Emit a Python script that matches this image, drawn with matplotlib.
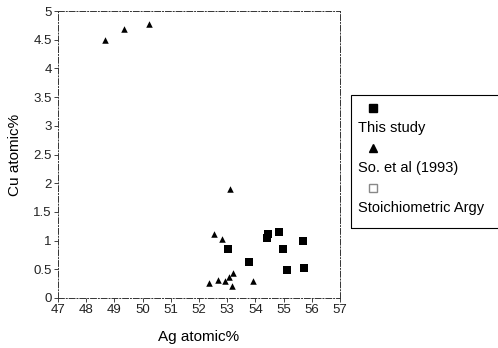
import matplotlib.pyplot as plt
from matplotlib.lines import Line2D
from matplotlib.patches import Rectangle

plt.rcParams['font.family'] = ['Liberation Sans', 'DejaVu Sans']

# This study (squares)
study_ag = [54.46, 54.40, 54.84, 55.70, 53.04, 54.99, 53.78, 55.11, 55.72]
study_cu = [1.12, 1.05, 1.15, 0.99, 0.85, 0.86, 0.63, 0.49, 0.52]

# So. et al (1993) (triangles)
so_ag = [48.67, 49.35, 50.24, 53.10, 52.54, 52.82, 52.37, 52.68, 52.92,
         53.07, 53.19, 53.18, 53.90]
so_cu = [4.49, 4.68, 4.78, 1.90, 1.11, 1.03, 0.26, 0.31, 0.30,
         0.36, 0.43, 0.21, 0.30]

# Stoichiometric argyrodite (nothing visible on the plot)
stoich_ag = []
stoich_cu = []

labels = ["This study", "So. et al (1993)", "Stoichiometric Argy"]
x_ticks = list(range(47, 58))
y_ticks = [0, 0.5, 1, 1.5, 2, 2.5, 3, 3.5, 4, 4.5, 5]

fig = plt.figure(figsize=(4.98, 3.48), dpi=100)
ax = fig.add_axes([58 / 498, 1 - 298 / 348, 282 / 498, 287 / 348])

ax.scatter(study_ag, study_cu, marker='s', s=28, color='black', linewidths=0)
ax.scatter(so_ag, so_cu, marker='^', s=22, color='black', linewidths=0)
ax.scatter(stoich_ag, stoich_cu, marker='s', s=22, facecolor='white',
           edgecolor='gray')

ax.set_xlim(47, 57)
ax.set_ylim(0, 5)
ax.set_xticks(x_ticks)
ax.set_yticks(y_ticks)
ax.set_yticklabels([f"{v:g}" for v in y_ticks])
ax.tick_params(labelsize=9.5, length=3, width=0.6, pad=1.5, colors='#222222')
for sp in ax.spines.values():
    sp.set_linestyle((0, (6, 2, 1, 2)))
    sp.set_linewidth(0.7)
    sp.set_color('#333333')

ax.set_xlabel("Ag atomic%", fontsize=11, labelpad=10)
ax.set_ylabel("Cu atomic%", fontsize=11, labelpad=8)

# legend: marker on one line, label underneath
fig.add_artist(Rectangle((351 / 498, 1 - 228 / 348), 150 / 498, 133 / 348,
                         transform=fig.transFigure, fill=False,
                         edgecolor='black', linewidth=0.8))
handles = [('s', 'black', 'black'), ('^', 'black', 'black'),
           ('s', 'white', '#888888')]
for i, (lab, (mk, fc, ec)) in enumerate(zip(labels, handles)):
    ym = 108 + i * 40
    fig.add_artist(Line2D([373 / 498], [1 - ym / 348], marker=mk,
                          markersize=6, markerfacecolor=fc,
                          markeredgecolor=ec, linestyle='none',
                          transform=fig.transFigure))
    fig.text(358 / 498, 1 - (ym + 20) / 348, lab, fontsize=10.5,
             va='center', ha='left')

plt.savefig("out.png", dpi=100)
